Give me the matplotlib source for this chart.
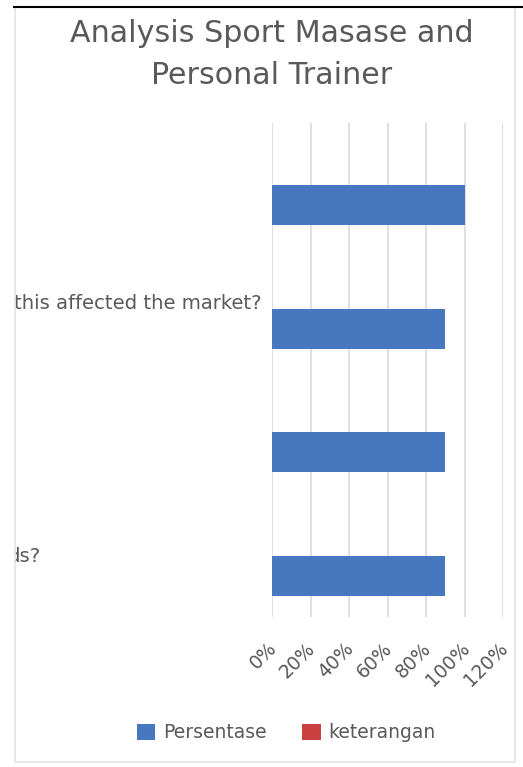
import matplotlib
matplotlib.use("Agg")
import matplotlib.pyplot as plt
import numpy as np
from matplotlib.patches import Rectangle
from matplotlib.transforms import ScaledTranslation, Bbox, TransformedBbox, blended_transform_factory
from matplotlib.lines import Line2D

# data
categories = ["q1", "q2", "q3", "q4"]        # full questions are cut off in the source
label_parts = ["", "this affected the market?", "", "ds?"]
persentase = [1.00, 0.90, 0.90, 0.90]
keterangan = [0, 0, 0, 0]
xticks = [0, 0.2, 0.4, 0.6, 0.8, 1.0, 1.2]
xtick_labels = ["0%", "20%", "40%", "60%", "80%", "100%", "120%"]
title = "Analysis Sport Masase and\nPersonal Trainer"

BLUE = "#4677BF"
RED = "#CC4040"
GREY = "#595959"
W, H = 523, 767

plt.rcParams['font.family'] = ['DejaVu Sans']

fig = plt.figure(figsize=(W / 100, H / 100), dpi=100)
fig.patch.set_facecolor("white")

# chart frame + the black screenshot edge on top
fig.patches.append(Rectangle((15 / W, 1 - 762 / H), 500 / W, 755 / H, transform=fig.transFigure,
                             fill=False, edgecolor="#E3E3E3", lw=1.2))
fig.lines.append(Line2D([14 / W, 1], [1 - 7 / H, 1 - 7 / H], transform=fig.transFigure,
                        color="black", lw=1.5))

ax = fig.add_axes([272 / W, 1 - 617 / H, 231 / W, 494 / H])
y = np.arange(len(categories))
h = 0.324
ax.barh(y + 0.165, persentase, height=h, color=BLUE, label="Persentase", zorder=3)
ax.barh(y - 0.165, keterangan, height=h, color=RED, label="keterangan", zorder=3)

ax.set_xlim(0, 1.2)
ax.set_ylim(3.5, -0.5)
ax.set_yticks([])
ax.set_xticks(xticks)
ax.set_xticklabels(xtick_labels, rotation=45, ha="right", va="center",
                   rotation_mode="anchor", color=GREY, fontsize=13.5)
ax.tick_params(axis="x", length=0, pad=20.5)
for lab in ax.get_xticklabels():
    lab.set_transform(lab.get_transform() + ScaledTranslation(2 / 100, 0, fig.dpi_scale_trans))
ax.grid(axis="x", color="#D9D9D9", lw=1.2, zorder=0)
for s in ax.spines.values():
    s.set_visible(False)
ax.set_facecolor("none")

# category labels, clipped at the frame like in the source
clip = TransformedBbox(Bbox.from_extents(15 / W, 0, 1, 1), fig.transFigure)
tr = blended_transform_factory(fig.transFigure, ax.transData)
label_x = [0, 262 / W, 0, 41 / W]
label_dy = [0, -0.04, 0, 0.01]
for i, txt in enumerate(label_parts):
    if txt:
        t = ax.text(label_x[i], y[i] + label_dy[i], txt, transform=tr, ha="right", va="center",
                    color=GREY, fontsize=14.1, clip_on=True)
        t.set_clip_box(clip)

fig.text(272 / W, 1 - 19 / H, title, ha="center", va="top", fontsize=21.7,
         color=GREY, linespacing=1.57)

fig.legend(loc="center", bbox_to_anchor=(286 / W, 1 - 733 / H), ncol=2, frameon=False,
           fontsize=13.5, labelcolor=GREY, handlelength=1.0, handleheight=1.0,
           handletextpad=0.4, columnspacing=1.9)

fig.savefig("out.png", dpi=100)
